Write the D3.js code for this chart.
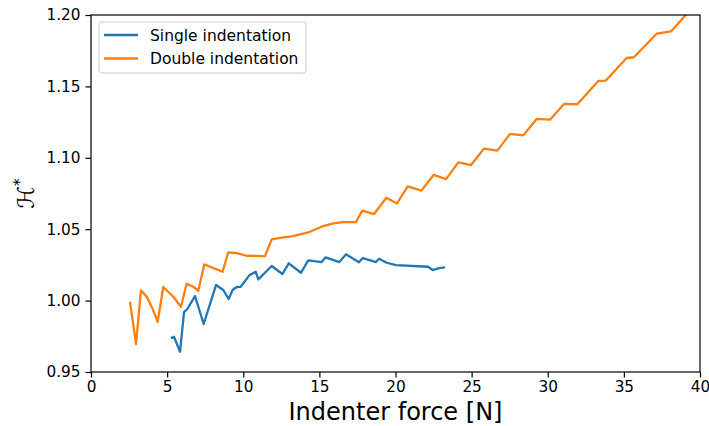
<!DOCTYPE html>
<html>
<head>
<meta charset="utf-8">
<script src="https://cdn.jsdelivr.net/npm/d3@7"></script>
<style>
body { margin: 0; background: #fff; }
svg text { font-family: "DejaVu Sans", sans-serif; }
</style>
</head>
<body>
<svg id="canvas"></svg>
<script>
// force [N] and H* values
let singleForce = [5.25, 5.45, 5.85, 6.11, 6.33, 6.83, 7.4, 8.21, 8.69, 9.04, 9.3, 9.57, 9.83, 10.4, 10.82, 10.99, 11.87, 12.57, 12.99, 13.79, 14.27, 15.15, 15.41, 16.31, 16.75, 17.6, 17.85, 18.72, 18.92, 19.42, 20.03, 22.15, 22.44, 22.87, 23.25];
let singleH = [0.9736, 0.9747, 0.9642, 0.9919, 0.9941, 1.0032, 0.9836, 1.0109, 1.0074, 1.0011, 1.0074, 1.0095, 1.0097, 1.0177, 1.0202, 1.0149, 1.0242, 1.0186, 1.0261, 1.0195, 1.0282, 1.027, 1.0303, 1.027, 1.0324, 1.0268, 1.0298, 1.027, 1.0293, 1.0265, 1.0249, 1.0237, 1.0214, 1.0228, 1.0233];

let doubleForce = [2.56, 2.96, 3.28, 3.66, 4.03, 4.38, 4.75, 5.41, 5.91, 6.28, 6.72, 7.05, 7.44, 8.64, 9.02, 9.57, 10.22, 11.43, 11.87, 12.63, 13.18, 14.34, 15.26, 15.92, 16.57, 17.4, 17.82, 18.59, 19.4, 20.1, 20.8, 21.7, 22.5, 23.32, 24.13, 24.96, 25.81, 26.69, 27.52, 28.39, 29.27, 30.15, 31.07, 31.94, 33.32, 33.8, 35.18, 35.66, 37.15, 38.1, 39.12, 40.2];
let doubleH = [0.9992, 0.9696, 1.0072, 1.0027, 0.9946, 0.9852, 1.0095, 1.0027, 0.9957, 1.0118, 1.0097, 1.0069, 1.0254, 1.0202, 1.0338, 1.0333, 1.0314, 1.0312, 1.0429, 1.0443, 1.045, 1.048, 1.0522, 1.0541, 1.055, 1.055, 1.063, 1.0606, 1.072, 1.068, 1.080, 1.077, 1.088, 1.0851, 1.0968, 1.0949, 1.1064, 1.105, 1.1167, 1.1157, 1.1272, 1.1267, 1.1377, 1.1375, 1.1538, 1.154, 1.1699, 1.1704, 1.1869, 1.1886, 1.2005, 1.208];

let xTicks = [0, 5, 10, 15, 20, 25, 30, 35, 40];
let yTicks = [0.95, 1.00, 1.05, 1.10, 1.15, 1.20];

let width = 709;
let height = 426;
let padLeft = 91, padRight = 700, padTop = 15, padBottom = 372;

let canvas = d3.select("#canvas")
    .attr("width", width)
    .attr("height", height);

let xScale = d3.scaleLinear().domain([0, 40]).range([padLeft, padRight]);
let yScale = d3.scaleLinear().domain([0.95, 1.20]).range([padBottom, padTop]);

canvas.append("clipPath").attr("id", "clip")
    .append("rect")
    .attr("x", padLeft).attr("y", padTop)
    .attr("width", padRight - padLeft).attr("height", padBottom - padTop);

let line = d3.line()
    .x(d => xScale(d[0]))
    .y(d => yScale(d[1]));

let series = [
    { name: "Single indentation", color: "#1f77b4", pts: singleForce.map((f, i) => [f, singleH[i]]) },
    { name: "Double indentation", color: "#ff7f0e", pts: doubleForce.map((f, i) => [f, doubleH[i]]) }
];

series.forEach(s => {
    canvas.append("path")
        .attr("d", line(s.pts))
        .attr("fill", "none")
        .attr("stroke", s.color)
        .attr("stroke-width", 2.3)
        .attr("stroke-linejoin", "round")
        .attr("clip-path", "url(#clip)");
});

// axes
let xAxis = d3.axisBottom(xScale).tickValues(xTicks).tickSize(5.5).tickPadding(4).tickFormat(d3.format("d"));
let yAxis = d3.axisLeft(yScale).tickValues(yTicks).tickSize(5.5).tickPadding(5).tickFormat(d3.format(".2f"));

let gx = canvas.append("g").attr("transform", "translate(0," + padBottom + ")").call(xAxis);
let gy = canvas.append("g").attr("transform", "translate(" + padLeft + ",0)").call(yAxis);

[gx, gy].forEach(g => {
    g.select(".domain").remove();
    g.selectAll("line").attr("stroke", "#000").attr("stroke-width", 1.2);
    g.selectAll("text").attr("font-size", 15.3).attr("fill", "#000")
        .attr("font-family", "DejaVu Sans");
});

// frame
canvas.append("rect")
    .attr("x", padLeft).attr("y", padTop)
    .attr("width", padRight - padLeft).attr("height", padBottom - padTop)
    .attr("fill", "none").attr("stroke", "#000").attr("stroke-width", 1.2);

// axis labels
canvas.append("text")
    .attr("x", (padLeft + padRight) / 2).attr("y", 420)
    .attr("text-anchor", "middle")
    .attr("font-size", 24)
    .text("Indenter force [N]");

let ylab = canvas.append("text")
    .attr("transform", "translate(34," + ((padTop + padBottom) / 2) + ") rotate(-90)")
    .attr("text-anchor", "middle")
    .attr("font-size", 23)
    .attr("font-family", "DejaVu Serif")
    .attr("font-style", "italic");
ylab.append("tspan").text("ℋ");
ylab.append("tspan").attr("dy", -9).attr("font-size", 16).attr("font-style", "normal").text("*");

// legend
let legend = canvas.append("g");
legend.append("rect")
    .attr("x", 99).attr("y", 22)
    .attr("width", 207).attr("height", 51)
    .attr("rx", 3)
    .attr("fill", "#fff").attr("fill-opacity", 0.8)
    .attr("stroke", "#ccc").attr("stroke-width", 1);

series.forEach((s, i) => {
    let y = 35 + i * 23.5;
    legend.append("line")
        .attr("x1", 104).attr("x2", 138)
        .attr("y1", y).attr("y2", y)
        .attr("stroke", s.color).attr("stroke-width", 2.3);
    legend.append("text")
        .attr("x", 150).attr("y", y + 5.5)
        .attr("font-size", 15.5)
        .text(s.name);
});
</script>
</body>
</html>
